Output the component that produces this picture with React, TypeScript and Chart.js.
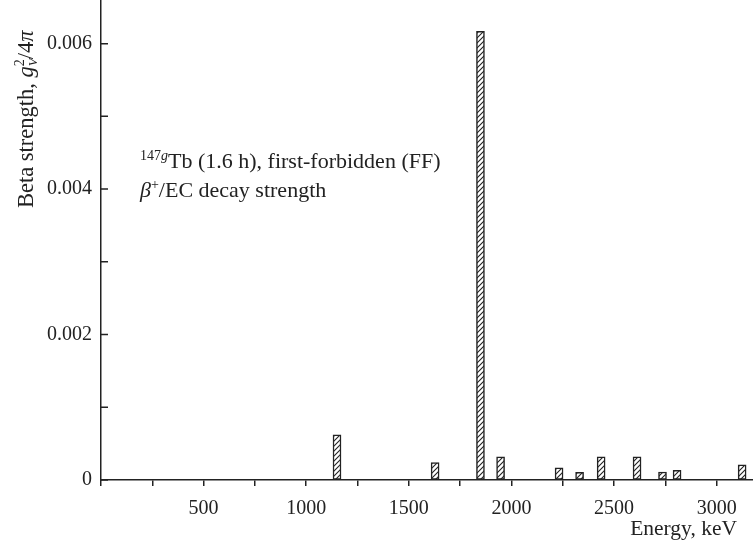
import { useEffect, useRef } from "react";
import { Chart, registerables } from "chart.js";

Chart.register(...registerables);

// transition energies (keV) and beta strengths
const energies = [1150, 1628, 1849, 1947, 2232, 2332, 2437, 2612, 2736, 2807, 3124];
const strengths = [
  0.00062, 0.00024, 0.00617, 0.00032, 0.000166, 0.000106, 0.00032, 0.00032, 0.00011,
  0.000134, 0.000207,
];
const xLabelValues = [500, 1000, 1500, 2000, 2500, 3000];
const yLabelValues = [0, 0.002, 0.004, 0.006];

const INK = "#222";
const SERIF = "'Liberation Serif', 'Times New Roman', serif";

type Seg = { t: string; size: number; italic?: boolean; dy?: number; adv?: boolean };

function drawRich(ctx: CanvasRenderingContext2D, segs: Seg[], x: number, y: number) {
  let cx = x;
  for (const s of segs) {
    ctx.font = `${s.italic ? "italic " : ""}${s.size}px ${SERIF}`;
    ctx.fillText(s.t, cx, y + (s.dy || 0));
    if (s.adv !== false) cx += ctx.measureText(s.t).width;
  }
}

function makeHatch(): CanvasPattern | string {
  const c = document.createElement("canvas");
  c.width = 5;
  c.height = 5;
  const g = c.getContext("2d");
  if (!g) return "#fff";
  g.fillStyle = "#fff";
  g.fillRect(0, 0, 5, 5);
  g.strokeStyle = INK;
  g.lineWidth = 1.1;
  g.beginPath();
  g.moveTo(-1, 6);
  g.lineTo(6, -1);
  g.moveTo(-1, 1);
  g.lineTo(1, -1);
  g.moveTo(4, 6);
  g.lineTo(6, 4);
  g.stroke();
  return g.createPattern(c, "repeat") || "#fff";
}

const decorations = {
  id: "decorations",
  afterDraw(chart: Chart) {
    const { ctx, chartArea } = chart;
    const y = chart.scales.y;
    ctx.save();
    // inward y ticks
    ctx.strokeStyle = INK;
    ctx.lineWidth = 1.5;
    ctx.beginPath();
    y.ticks.forEach((t) => {
      const py = y.getPixelForValue(t.value);
      ctx.moveTo(chartArea.left, py);
      ctx.lineTo(chartArea.left + 7, py);
    });
    ctx.stroke();

    ctx.fillStyle = INK;
    ctx.textBaseline = "alphabetic";
    ctx.textAlign = "left";

    // annotation
    drawRich(
      ctx,
      [
        { t: "147", size: 14, dy: -8 },
        { t: "g", size: 14, italic: true, dy: -8 },
        { t: "Tb (1.6 h), first-forbidden (FF)", size: 22 },
      ],
      140,
      168
    );
    drawRich(
      ctx,
      [
        { t: "β", size: 22, italic: true },
        { t: "+", size: 14, dy: -8 },
        { t: "/EC decay strength", size: 22 },
      ],
      140,
      197
    );

    // x title
    ctx.textAlign = "right";
    ctx.font = `21.5px ${SERIF}`;
    ctx.fillText("Energy, keV", 737, 535);

    // y title
    ctx.textAlign = "left";
    ctx.translate(33, 208);
    ctx.rotate(-Math.PI / 2);
    drawRich(
      ctx,
      [
        { t: "Beta strength, ", size: 22.5 },
        { t: "g", size: 22.5, italic: true },
        { t: "V", size: 13, italic: true, dy: 4, adv: false },
        { t: "2", size: 14, dy: -9 },
        { t: "/4", size: 22.5 },
        { t: "π", size: 22.5, italic: true },
      ],
      0,
      0
    );
    ctx.restore();
  },
};

export default function App() {
  const chartRef = useRef<HTMLCanvasElement>(null);

  useEffect(() => {
    document.body.style.margin = "0";
    if (!chartRef.current) return;
    const ctx = chartRef.current.getContext("2d");
    if (!ctx) return;

    const chart = new Chart(ctx, {
      type: "bar",
      data: {
        datasets: [
          {
            data: energies.map((e, i) => ({ x: e, y: strengths[i] })),
            backgroundColor: makeHatch(),
            borderColor: INK,
            borderWidth: 1.5,
            borderSkipped: false,
            barThickness: 8,
          },
        ],
      },
      options: {
        animation: false,
        responsive: true,
        maintainAspectRatio: false,
        layout: { padding: 0 },
        plugins: {
          legend: { display: false },
          tooltip: { enabled: false },
        },
        scales: {
          x: {
            type: "linear",
            offset: false,
            min: 0,
            max: 3177,
            afterFit: (s: any) => {
              s.height = 70;
              s.paddingLeft = 0;
              s.paddingRight = 0;
            },
            ticks: {
              stepSize: 250,
              includeBounds: false,
              autoSkip: false,
              maxRotation: 0,
              padding: 11,
              color: INK,
              font: { family: SERIF, size: 20 },
              callback: (v) => (xLabelValues.includes(Number(v)) ? String(v) : ""),
            },
            grid: {
              display: true,
              offset: false,
              drawOnChartArea: false,
              drawTicks: true,
              tickLength: 6,
              color: INK,
              lineWidth: 1.5,
            },
            border: { display: true, color: INK, width: 1.5 },
          },
          y: {
            min: 0,
            max: 0.0066,
            afterFit: (s: any) => {
              s.width = 101;
              s.paddingTop = 0;
              s.paddingBottom = 0;
            },
            ticks: {
              stepSize: 0.001,
              includeBounds: false,
              autoSkip: false,
              padding: 9,
              color: INK,
              font: { family: SERIF, size: 20 },
              callback: (v) => {
                const n = Number(v);
                const hit = yLabelValues.find((l) => Math.abs(l - n) < 1e-9);
                if (hit === undefined) return "";
                return hit === 0 ? "0" : hit.toFixed(3);
              },
            },
            grid: { display: true, drawOnChartArea: false, drawTicks: false },
            border: { display: true, color: INK, width: 1.5 },
          },
        },
      },
      plugins: [decorations],
    });

    return () => chart.destroy();
  }, []);

  return (
    <div style={{ position: "relative", width: 753, height: 550 }}>
      <canvas ref={chartRef}></canvas>
    </div>
  );
}
